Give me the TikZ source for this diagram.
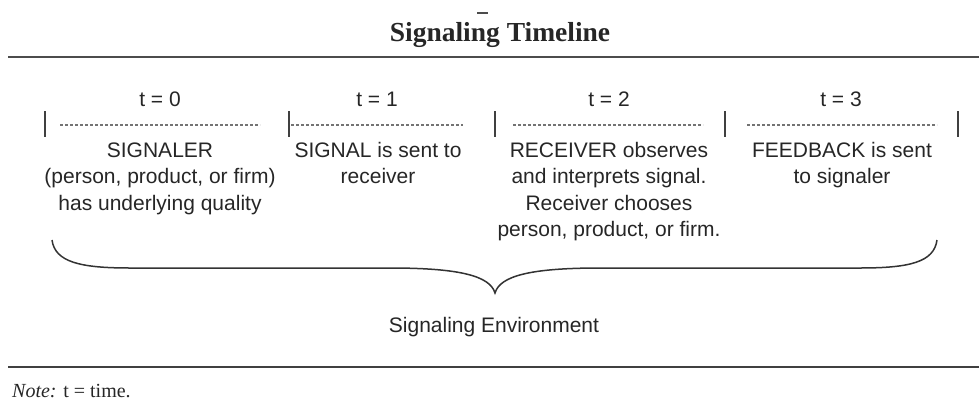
\documentclass[tikz,border=0pt]{standalone}
\usepackage{fontspec}
\setmainfont{Liberation Serif}
\newfontfamily\bodyfont{Liberation Sans}
\begin{document}
\begin{tikzpicture}[x=1pt,y=-1pt,
  txt/.style={inner sep=0pt,anchor=base,text=black!85,font=\bodyfont\fontsize{21}{26.5}\selectfont},
  bar/.style={draw=black!75,line width=2pt},
  dots/.style={draw=black!55,line width=1.3pt,dash pattern=on 3pt off 2pt},
  rule/.style={draw=black!70,line width=2.5pt}]
\useasboundingbox (0,0) rectangle (979,402);
% title
\node[inner sep=0pt,anchor=base,text=black!85,font=\bfseries\fontsize{27.5}{30}\selectfont] (title) at (500,41) {Signaling Timeline};
\draw[black!70,line width=1.2pt] (477,13) -- (488,13);
\coordinate (r1a) at (8,57); \coordinate (r1b) at (979,57);
\draw[rule] (r1a) -- (r1b);
% time labels
\node[txt] (t0) at (160,106) {t = 0};
\node[txt] (t1) at (377,106) {t = 1};
\node[txt] (t2) at (609,106) {t = 2};
\node[txt] (t3) at (841,106) {t = 3};
% bars
\foreach \x/\n in {45/a,289/b,495/c,725/d,958/e}{
  \coordinate (bt\n) at (\x,111); \coordinate (bb\n) at (\x,137);
  \draw[bar] (bt\n) -- (bb\n);
}
% dotted lines
\coordinate (d0a) at (60,125);  \coordinate (d0b) at (260,125);
\coordinate (d1a) at (291,125); \coordinate (d1b) at (463,125);
\coordinate (d2a) at (513,125); \coordinate (d2b) at (703,125);
\coordinate (d3a) at (747,125); \coordinate (d3b) at (937,125);
\draw[dots] (d0a) -- (d0b);
\draw[dots] (d1a) -- (d1b);
\draw[dots] (d2a) -- (d2b);
\draw[dots] (d3a) -- (d3b);
% column texts
\node[txt] (c0l1) at (160,157) {SIGNALER};
\node[txt] (c0l2) at (160,183.5) {(person, product, or firm)};
\node[txt] (c0l3) at (160,210) {has underlying quality};
\node[txt] (c1l1) at (378,157) {SIGNAL is sent to};
\node[txt] (c1l2) at (378,183.5) {receiver};
\node[txt] (c2l1) at (609,157) {RECEIVER observes};
\node[txt] (c2l2) at (609,183.5) {and interprets signal.};
\node[txt] (c2l3) at (609,210) {Receiver chooses};
\node[txt] (c2l4) at (609,236.5) {person, product, or firm.};
\node[txt] (c3l1) at (842,157) {FEEDBACK is sent};
\node[txt] (c3l2) at (842,183.5) {to signaler};
% brace
\coordinate (bl) at (52,240); \coordinate (tip) at (495,293); \coordinate (br) at (937,240);
\draw[black!80,line width=1.5pt] (bl) .. controls (55,262) and (80,268) .. (130,268) -- (390,268)
  .. controls (460,268) and (490,276) .. (tip)
  .. controls (500,276) and (530,268) .. (600,268) -- (860,268)
  .. controls (910,268) and (934,262) .. (br);
\node[txt] (env) at (494,332) {Signaling Environment};
% bottom rule
\coordinate (r2a) at (8,367); \coordinate (r2b) at (979,367);
\draw[draw=black!75,line width=2pt] (r2a) -- (r2b);
\node[inner sep=0pt,anchor=base west,text=black!85,font=\fontsize{20}{24}\selectfont] (note) at (12,397) {\textit{Note:} t = time.};
\end{tikzpicture}
\end{document}
